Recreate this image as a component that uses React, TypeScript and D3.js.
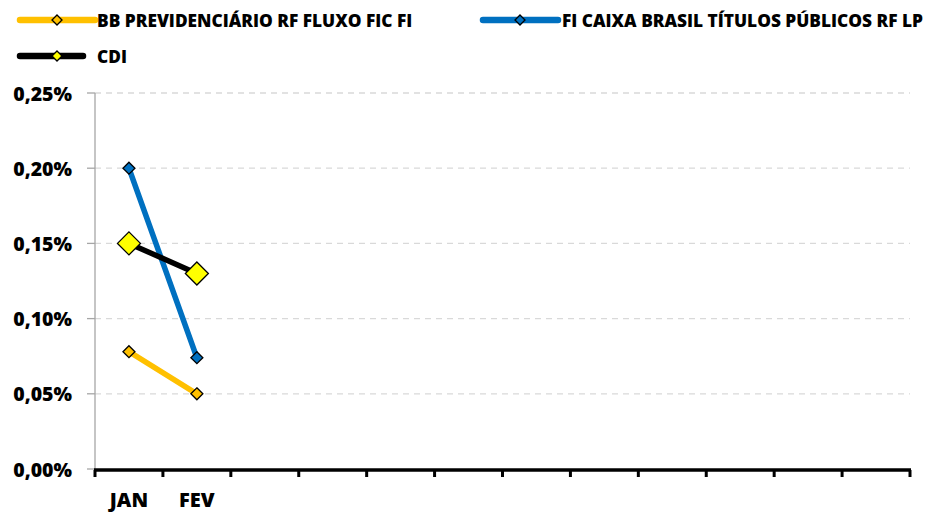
import React from "react";
import * as d3 from "d3";

const months = ["JAN", "FEV", "", "", "", "", "", "", "", "", "", ""];
const bbValues = [0.078, 0.05];
const caixaValues = [0.2, 0.074];
const cdiValues = [0.15, 0.13];
const yTicks = [0, 0.05, 0.1, 0.15, 0.2, 0.25];

const seriesNames = [
  "BB PREVIDENCIÁRIO RF FLUXO FIC FI",
  "FI CAIXA BRASIL TÍTULOS PÚBLICOS RF LP",
  "CDI",
];

const W = 930;
const H = 514;
const FONT = "'Open Sans', Lato, sans-serif";

function diamond(cx: number, cy: number, r: number) {
  return `M${cx},${cy - r}L${cx + r},${cy}L${cx},${cy + r}L${cx - r},${cy}Z`;
}

export default function App() {
  const x = d3.scaleBand<number>().domain(d3.range(months.length)).range([95, 910]);
  const y = d3.scaleLinear().domain([0, 0.25]).range([469, 93]);
  const cx = (i: number) => (x(i) as number) + x.bandwidth() / 2;
  const line = d3
    .line<number>()
    .x((_, i) => cx(i))
    .y((d) => y(d));
  const fmt = (v: number) => v.toFixed(2).replace(".", ",") + "%";

  const series = [
    { name: seriesNames[0], values: bbValues, color: "#FFC000", mfill: "#FFC000", mr: 6 },
    { name: seriesNames[1], values: caixaValues, color: "#0070C0", mfill: "#0070C0", mr: 6 },
    { name: seriesNames[2], values: cdiValues, color: "#000000", mfill: "#FFFF00", mr: 11.5 },
  ];

  const legend = [
    { s: series[0], x1: 20, x2: 95, y: 20, tx: 97, mx: 57 },
    { s: series[1], x1: 483, x2: 558, y: 20, tx: 562, mx: 520 },
    { s: series[2], x1: 20, x2: 83, y: 56, tx: 97, mx: 57 },
  ];

  const boundaries = d3.range(months.length + 1).map((i) =>
    i < months.length ? (x(i) as number) : 910
  );

  return (
    <svg width={W} height={H} style={{ display: "block", position: "absolute", left: 0, top: 0 }}>
      <rect width={W} height={H} fill="#fff" />
      {yTicks.slice(1).map((t) => (
        <line
          key={t}
          x1={95}
          x2={910}
          y1={y(t)}
          y2={y(t)}
          stroke="#D9D9D9"
          strokeWidth={1.3}
          strokeDasharray="6,5"
        />
      ))}
      <line x1={95} x2={95} y1={y(0.25)} y2={y(0)} stroke="#A6A6A6" strokeWidth={1.3} />
      {yTicks.map((t) => (
        <g key={t}>
          <line x1={87} x2={95} y1={y(t)} y2={y(t)} stroke="#A6A6A6" strokeWidth={1.3} />
          <text
            x={72}
            y={y(t)}
            textAnchor="end"
            dominantBaseline="central"
            fontFamily={FONT}
            fontWeight={800}
            fontSize={19.5}
            fill="#000"
          >
            {fmt(t)}
          </text>
        </g>
      ))}
      <line x1={94} x2={911} y1={470} y2={470} stroke="#000" strokeWidth={3.5} />
      {boundaries.map((b, i) => (
        <line key={i} x1={b} x2={b} y1={470} y2={477} stroke="#000" strokeWidth={3} />
      ))}
      {months.map((m, i) => (
        <text
          key={i}
          x={cx(i)}
          y={507}
          textAnchor="middle"
          fontFamily={FONT}
          fontWeight={800}
          fontSize={20}
        >
          {m}
        </text>
      ))}
      {series.map((s) => (
        <path
          key={s.name}
          d={line(s.values) || ""}
          fill="none"
          stroke={s.color}
          strokeWidth={5.5}
          strokeLinecap="round"
        />
      ))}
      {series.map((s) =>
        s.values.map((v, i) => (
          <path
            key={s.name + i}
            d={diamond(cx(i), y(v), s.mr)}
            fill={s.mfill}
            stroke="#000"
            strokeWidth={1.3}
          />
        ))
      )}
      {legend.map((l) => (
        <g key={l.s.name}>
          <line
            x1={l.x1}
            x2={l.x2}
            y1={l.y}
            y2={l.y}
            stroke={l.s.color}
            strokeWidth={6.5}
            strokeLinecap="round"
          />
          <path
            d={diamond(l.mx, l.y, 5)}
            fill={l.s.mfill}
            stroke="#000"
            strokeWidth={1.3}
          />
          <text
            x={l.tx}
            y={l.y}
            dominantBaseline="central"
            fontFamily={FONT}
            fontWeight={800}
            fontSize={17.3}
          >
            {l.s.name}
          </text>
        </g>
      ))}
    </svg>
  );
}
